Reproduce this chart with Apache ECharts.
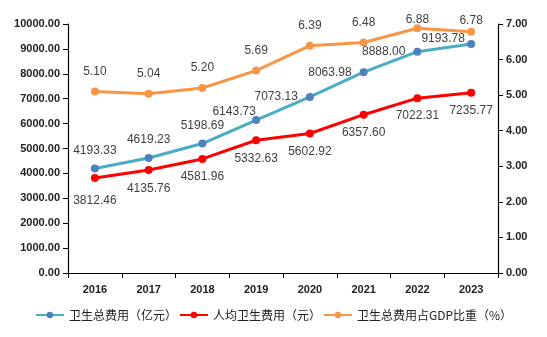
<!DOCTYPE html>
<html><head><meta charset="utf-8">
<script src="https://cdn.jsdelivr.net/npm/echarts@6/dist/echarts.min.js"></script>
<style>html,body{margin:0;padding:0;background:#fff}#c{width:547px;height:337px}</style>
</head><body><div id="c"></div>
<script>
const years = ['2016','2017','2018','2019','2020','2021','2022','2023'];
const totalCost = [4193.33, 4619.23, 5198.69, 6143.73, 7073.13, 8063.98, 8888.00, 9193.78];
const perCapita = [3812.46, 4135.76, 4581.96, 5332.63, 5602.92, 6357.60, 7022.31, 7235.77];
const gdpShare = [5.10, 5.04, 5.20, 5.69, 6.39, 6.48, 6.88, 6.78];
const seriesNames = ['卫生总费用（亿元）', '人均卫生费用（元）', '卫生总费用占GDP比重（%）'];

const numFont = 'Liberation Sans, Noto Sans CJK SC, sans-serif';
// label placement per point (style, not data)
const totalLabelPos = ['top','top','top','top','left','left','left','top'];
const totalLabelOff = [[0,0],[0,0],[0,0],[-22,10],[0,0],[0,0],[0,0],[-28,13]];
const perLabelDist = [13,9,8,8,8,8,8,8];
const gdpLabelDist = [10,10,10,10,10,10,-1,1];

const chart = echarts.init(document.getElementById('c'));
chart.setOption({
  animation: false,
  textStyle: { fontFamily: 'Noto Sans CJK SC, sans-serif' },
  grid: { left: 68, right: 49, top: 24, bottom: 64 },
  legend: {
    bottom: 11, left: 'center', itemWidth: 28, itemHeight: 8, itemGap: 2,
    textStyle: { fontSize: 12, color: '#222', fontFamily: 'Noto Sans CJK SC, sans-serif' },
    data: seriesNames
  },
  xAxis: {
    type: 'category', data: years, boundaryGap: true,
    axisLine: { lineStyle: { color: '#000', width: 1.2 } },
    axisTick: { show: true, length: 5, lineStyle: { color: '#000' } },
    axisLabel: { color: '#222', fontWeight: 'bold', fontSize: 11, margin: 11, fontFamily: numFont }
  },
  yAxis: [{
    type: 'value', min: 0, max: 10000, interval: 1000,
    axisLine: { show: true, lineStyle: { color: '#000', width: 1.2 } },
    axisTick: { show: true, length: 5, inside: false, lineStyle: { color: '#000' } },
    splitLine: { show: false },
    axisLabel: { color: '#222', fontWeight: 'bold', fontSize: 11, formatter: v => v.toFixed(2), fontFamily: numFont }
  }, {
    type: 'value', min: 0, max: 7, interval: 1,
    axisLine: { show: true, lineStyle: { color: '#000', width: 1.2 } },
    axisTick: { show: true, length: 5, lineStyle: { color: '#000' } },
    splitLine: { show: false },
    axisLabel: { color: '#222', fontWeight: 'bold', fontSize: 11, formatter: v => v.toFixed(2), fontFamily: numFont }
  }],
  series: [{
    name: seriesNames[0], type: 'line', yAxisIndex: 0,
    data: totalCost.map((v, i) => ({ value: v, label: { position: totalLabelPos[i], offset: totalLabelOff[i] } })),
    symbol: 'circle', symbolSize: 8,
    lineStyle: { color: '#4BACC6', width: 3 },
    itemStyle: { color: '#4F81BD' },
    label: { show: true, color: '#404040', fontSize: 12, distance: 8, formatter: p => p.value.toFixed(2), fontFamily: numFont }
  }, {
    name: seriesNames[1], type: 'line', yAxisIndex: 0,
    data: perCapita.map((v, i) => ({ value: v, label: { distance: perLabelDist[i] } })),
    symbol: 'circle', symbolSize: 8,
    lineStyle: { color: '#FF0000', width: 3 },
    itemStyle: { color: '#FF0000' },
    label: { show: true, position: 'bottom', color: '#404040', fontSize: 12, formatter: p => p.value.toFixed(2), fontFamily: numFont }
  }, {
    name: seriesNames[2], type: 'line', yAxisIndex: 1,
    data: gdpShare.map((v, i) => ({ value: v, label: { distance: gdpLabelDist[i] } })),
    symbol: 'circle', symbolSize: 8,
    lineStyle: { color: '#F79646', width: 3 },
    itemStyle: { color: '#F79646' },
    label: { show: true, position: 'top', color: '#404040', fontSize: 12, formatter: p => p.value.toFixed(2), fontFamily: numFont }
  }]
});
</script></body></html>
